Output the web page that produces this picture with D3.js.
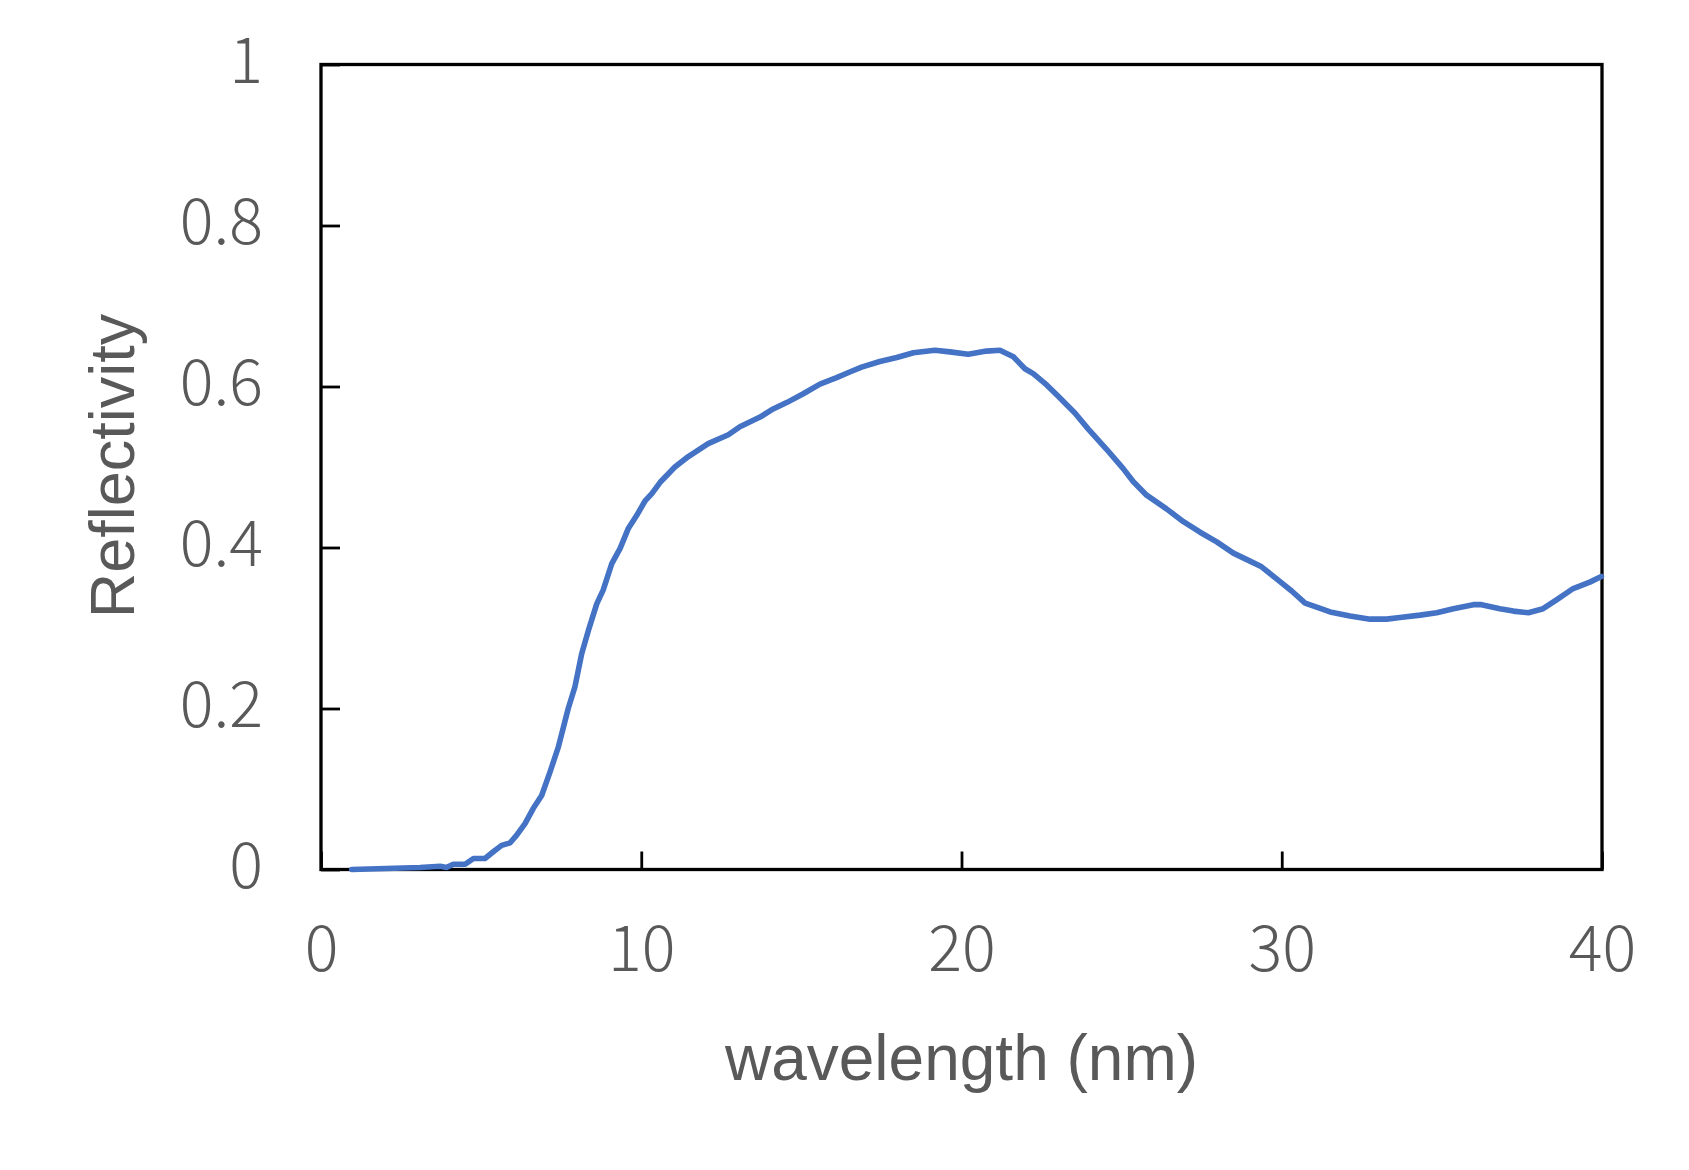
<!DOCTYPE html>
<html>
<head>
<meta charset="utf-8">
<script src="https://cdn.jsdelivr.net/npm/d3@7"></script>
<style>
  html, body { margin: 0; padding: 0; background: #fff; }
  svg { display: block; }
</style>
</head>
<body>
<svg id="chart" width="1689" height="1170"></svg>
<script>
// ---- data ----
const wavelength = [0.96, 3.09, 3.72, 3.92, 4.13, 4.5, 4.76, 5.12, 5.38, 5.64, 5.9, 6.11, 6.37, 6.63, 6.89, 7.15, 7.41, 7.72, 7.93, 8.14, 8.35, 8.61, 8.81, 9.08, 9.34, 9.6, 9.86, 10.12, 10.33, 10.59, 11.05, 11.47, 12.09, 12.72, 13.08, 13.71, 14.07, 14.54, 15.06, 15.58, 16.1, 16.51, 16.88, 17.45, 17.98, 18.5, 19.17, 19.64, 20.21, 20.78, 21.2, 21.62, 21.98, 22.24, 22.66, 23.02, 23.54, 23.96, 24.53, 25.05, 25.36, 25.78, 26.4, 26.93, 27.45, 27.97, 28.49, 28.96, 29.37, 29.84, 30.31, 30.73, 31.09, 31.51, 32.13, 32.76, 33.28, 33.69, 34.32, 34.84, 35.36, 35.98, 36.24, 36.81, 37.23, 37.7, 38.16, 38.58, 39.1, 39.62, 39.98];
const reflectivity = [0.0, 0.0025, 0.004, 0.0025, 0.0066, 0.0066, 0.0137, 0.0137, 0.022, 0.030, 0.033, 0.0426, 0.057, 0.076, 0.092, 0.121, 0.152, 0.200, 0.227, 0.268, 0.297, 0.330, 0.347, 0.380, 0.399, 0.424, 0.440, 0.458, 0.467, 0.481, 0.500, 0.513, 0.529, 0.540, 0.550, 0.562, 0.571, 0.580, 0.591, 0.603, 0.611, 0.618, 0.624, 0.631, 0.636, 0.642, 0.645, 0.643, 0.640, 0.644, 0.645, 0.637, 0.622, 0.616, 0.602, 0.588, 0.567, 0.547, 0.522, 0.498, 0.482, 0.465, 0.448, 0.432, 0.419, 0.407, 0.393, 0.384, 0.376, 0.361, 0.346, 0.331, 0.326, 0.320, 0.315, 0.311, 0.311, 0.313, 0.316, 0.319, 0.324, 0.329, 0.329, 0.324, 0.321, 0.319, 0.324, 0.335, 0.349, 0.357, 0.364];
const xTicks = [0, 10, 20, 30, 40];
const yTicks = [0, 0.2, 0.4, 0.6, 0.8, 1];
const xTitle = "wavelength (nm)";
const yTitle = "Reflectivity";

// ---- layout ----
const svg = d3.select("#chart");
const L = 321, R = 1602, T = 64.5, B = 869.5;
const x = d3.scaleLinear().domain([0, 40]).range([L, R]);
const y = d3.scaleLinear().domain([0, 1]).range([B, T]);

const textColor = "#595959";
const tickFont = "'Noto Sans CJK JP', 'Noto Sans', sans-serif";
const titleFont = "'Liberation Sans', Arial, sans-serif";

// x axis (ticks inside, pointing up)
const xAxis = d3.axisBottom(x).tickValues(xTicks).tickSize(-18).tickFormat(d3.format("d")).tickPadding(0);
const gx = svg.append("g").attr("transform", `translate(0,${B})`).call(xAxis);
gx.select(".domain").remove();
gx.selectAll(".tick line").attr("stroke", "#000").attr("stroke-width", 2.8);
gx.selectAll(".tick text")
  .attr("y", 101).attr("dy", null)
  .attr("fill", textColor)
  .style("font-family", tickFont).style("font-weight", 300).style("font-size", "63px");

// y axis (ticks inside, pointing right)
const yAxis = d3.axisLeft(y).tickValues(yTicks).tickSize(-19).tickFormat(d => d === 0 ? "0" : d === 1 ? "1" : d3.format(".1f")(d)).tickPadding(0);
const gy = svg.append("g").attr("transform", `translate(${L},0)`).call(yAxis);
gy.select(".domain").remove();
gy.selectAll(".tick line").attr("stroke", "#000").attr("stroke-width", 2.8);
gy.selectAll(".tick text")
  .attr("x", -58).attr("dy", null).attr("y", 18)
  .attr("text-anchor", "end")
  .attr("fill", textColor)
  .style("font-family", tickFont).style("font-weight", 300).style("font-size", "63px");

// frame
svg.append("rect")
  .attr("x", L).attr("y", T).attr("width", R - L).attr("height", B - T)
  .attr("fill", "none").attr("stroke", "#000").attr("stroke-width", 3.3);

// line
const line = d3.line().x((d, i) => x(wavelength[i])).y(d => y(d));
svg.append("path")
  .datum(reflectivity)
  .attr("d", line)
  .attr("fill", "none")
  .attr("stroke", "#4472C4")
  .attr("stroke-width", 5.6)
  .attr("stroke-linejoin", "round")
  .attr("stroke-linecap", "round");

// titles
svg.append("text")
  .attr("x", (L + R) / 2).attr("y", 1080)
  .attr("text-anchor", "middle")
  .attr("fill", textColor)
  .style("font-family", titleFont).style("font-size", "64px")
  .text(xTitle);

svg.append("text")
  .attr("transform", `translate(134,466) rotate(-90)`)
  .attr("text-anchor", "middle")
  .attr("fill", textColor)
  .style("font-family", titleFont).style("font-size", "63px")
  .text(yTitle);
</script>
</body>
</html>
